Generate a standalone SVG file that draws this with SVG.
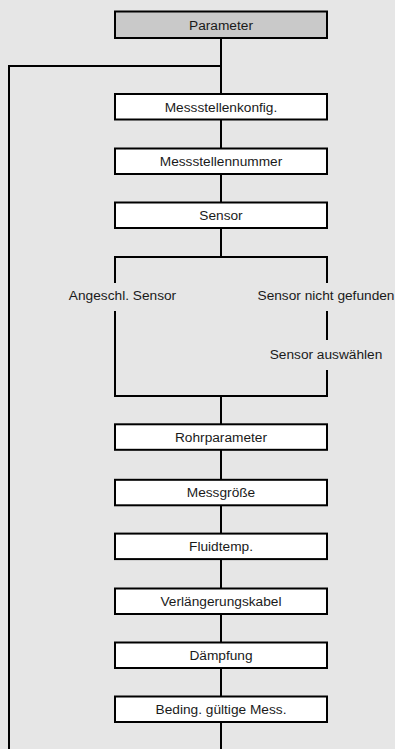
<svg xmlns="http://www.w3.org/2000/svg" width="395" height="749" viewBox="0 0 395 749">
<style>
.box{fill:#ffffff;stroke:#000;stroke-width:2}
.hdr{fill:#c9c9c9;stroke:#000;stroke-width:2}
.ln{fill:none;stroke:#000;stroke-width:2}
text{font-family:"Liberation Sans",Arial,sans-serif;font-size:13.7px;fill:#1a1a1a;text-anchor:middle}
</style>
<rect x="0" y="0" width="395" height="749" fill="#e6e6e6"/>
<g id="connectors">
<path class="ln" d="M221 38 V257"/>
<path class="ln" d="M221 66 H9 V749"/>
<path class="ln" d="M221 396 V749"/>
<path class="ln" d="M115 283 V257 H327 V283"/>
<path class="ln" d="M115 311 V396 H327 V370"/>
<path class="ln" d="M327 311 V340"/>
</g>
<g id="n-parameter"><rect class="hdr" x="115" y="11.5" width="212" height="26.5"/><text x="221" y="29.6">Parameter</text></g>
<g id="n-konfig"><rect class="box" x="115" y="94" width="212" height="25.5"/><text x="221" y="111.6">Messstellenkonfig.</text></g>
<g id="n-nummer"><rect class="box" x="115" y="148.5" width="212" height="25.5"/><text x="221" y="166.1">Messstellennummer</text></g>
<g id="n-sensor"><rect class="box" x="115" y="202.5" width="212" height="25.5"/><text x="221" y="220.1">Sensor</text></g>
<g id="n-angeschl"><text x="122.5" y="300">Angeschl. Sensor</text></g>
<g id="n-nicht"><text x="326" y="300">Sensor nicht gefunden</text></g>
<g id="n-auswaehlen"><text x="326" y="359">Sensor auswählen</text></g>
<g id="n-rohr"><rect class="box" x="115" y="424.3" width="212" height="25.5"/><text x="221" y="441.9">Rohrparameter</text></g>
<g id="n-messgroesse"><rect class="box" x="115" y="479.8" width="212" height="25.5"/><text x="221" y="497.4">Messgröße</text></g>
<g id="n-fluid"><rect class="box" x="115" y="533.6" width="212" height="25.5"/><text x="221" y="551.2">Fluidtemp.</text></g>
<g id="n-kabel"><rect class="box" x="115" y="588.5" width="212" height="25.5"/><text x="221" y="606.1">Verlängerungskabel</text></g>
<g id="n-daempfung"><rect class="box" x="115" y="642.5" width="212" height="25.5"/><text x="221" y="660.1">Dämpfung</text></g>
<g id="n-beding"><rect class="box" x="115" y="696.5" width="212" height="25.5"/><text x="221" y="714.1">Beding. gültige Mess.</text></g>
</svg>
